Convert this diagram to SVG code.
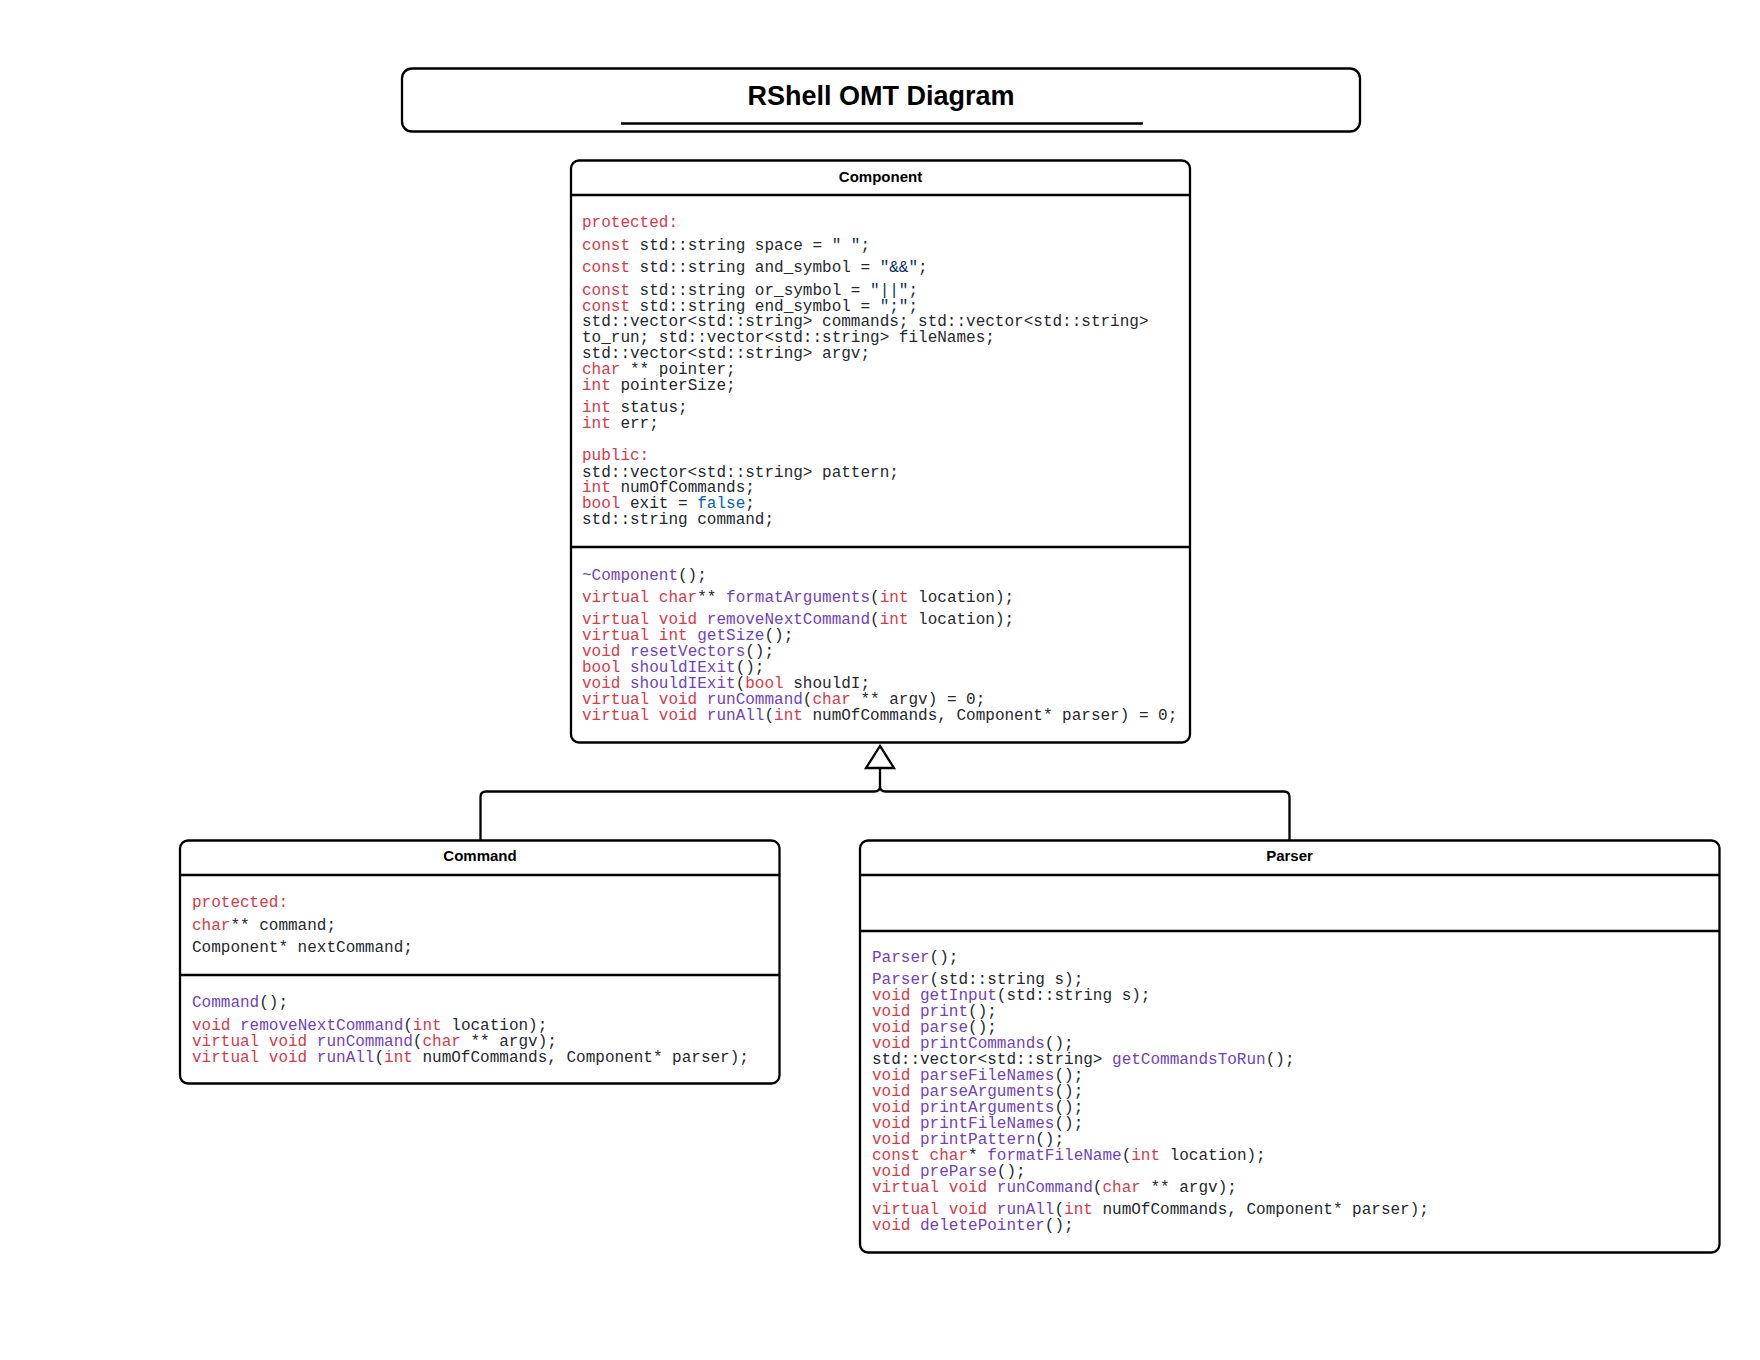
<svg xmlns="http://www.w3.org/2000/svg" width="1760" height="1360" viewBox="0 0 1760 1360">
<style>
.bg{fill:#ffffff}
.box{fill:#ffffff;stroke:#000000;stroke-width:2.3}
.sep{stroke:#000000;stroke-width:2.3;fill:none}
.conn{stroke:#000000;stroke-width:2.3;fill:none}
.tri{fill:#ffffff;stroke:#000000;stroke-width:2.3;stroke-linejoin:miter}
.ttl{font-family:"Liberation Sans",Arial,sans-serif;font-weight:bold;font-size:27px;text-anchor:middle;fill:#000000}
.hd{font-family:"Liberation Sans",Arial,sans-serif;font-weight:bold;font-size:15px;text-anchor:middle;fill:#000000}
.m{font-family:"Liberation Mono","DejaVu Sans Mono",monospace;font-size:16px;fill:#24292e}
.k{fill:#d73a49}
.f{fill:#6f42c1}
.s{fill:#032f62}
.c{fill:#005cc5}
</style>
<rect class="bg" x="0" y="0" width="1760" height="1360"/>

<g id="connectors">
<path class="conn" d="M880,768 V786 Q880,791.5 874.5,791.5 H486 Q480.5,791.5 480.5,797 V840"/>
<path class="conn" d="M880,786 Q880,791.5 885.5,791.5 H1284 Q1289.5,791.5 1289.5,797 V840"/>
<polygon class="tri" points="880,746 866,768 894,768"/>
</g>

<g id="title">
<rect class="box" x="402" y="68.5" width="958" height="63" rx="10"/>
<text class="ttl" x="881" y="105">RShell OMT Diagram</text>
<line class="sep" x1="621" y1="123.5" x2="1143" y2="123.5"/>
</g>

<g id="component">
<rect class="box" x="571" y="160.5" width="619" height="582" rx="8"/>
<line class="sep" x1="571" y1="195" x2="1190" y2="195"/>
<line class="sep" x1="571" y1="547" x2="1190" y2="547"/>
<text class="hd" x="880.5" y="181.5">Component</text>
<text class="m" x="582" y="227"><tspan class="k">protected:</tspan></text>
<text class="m" x="582" y="249.5"><tspan class="k">const</tspan> std::string space = <tspan class="s">" "</tspan>;</text>
<text class="m" x="582" y="272"><tspan class="k">const</tspan> std::string and_symbol = <tspan class="s">"&amp;&amp;"</tspan>;</text>
<text class="m" x="582" y="294.5"><tspan class="k">const</tspan> std::string or_symbol = <tspan class="s">"||"</tspan>;</text>
<text class="m" x="582" y="310.5"><tspan class="k">const</tspan> std::string end_symbol = <tspan class="s">";"</tspan>;</text>
<text class="m" x="582" y="326">std::vector&lt;std::string&gt; commands; std::vector&lt;std::string&gt;</text>
<text class="m" x="582" y="342">to_run; std::vector&lt;std::string&gt; fileNames;</text>
<text class="m" x="582" y="358">std::vector&lt;std::string&gt; argv;</text>
<text class="m" x="582" y="374"><tspan class="k">char</tspan> ** pointer;</text>
<text class="m" x="582" y="390"><tspan class="k">int</tspan> pointerSize;</text>
<text class="m" x="582" y="412"><tspan class="k">int</tspan> status;</text>
<text class="m" x="582" y="428"><tspan class="k">int</tspan> err;</text>
<text class="m" x="582" y="460"><tspan class="k">public:</tspan></text>
<text class="m" x="582" y="476.5">std::vector&lt;std::string&gt; pattern;</text>
<text class="m" x="582" y="492"><tspan class="k">int</tspan> numOfCommands;</text>
<text class="m" x="582" y="508"><tspan class="k">bool</tspan> exit = <tspan class="c">false</tspan>;</text>
<text class="m" x="582" y="524">std::string command;</text>
<text class="m" x="582" y="580"><tspan class="f">~Component</tspan>();</text>
<text class="m" x="582" y="602"><tspan class="k">virtual char</tspan>** <tspan class="f">formatArguments</tspan>(<tspan class="k">int</tspan> location);</text>
<text class="m" x="582" y="624"><tspan class="k">virtual void</tspan> <tspan class="f">removeNextCommand</tspan>(<tspan class="k">int</tspan> location);</text>
<text class="m" x="582" y="640"><tspan class="k">virtual int</tspan> <tspan class="f">getSize</tspan>();</text>
<text class="m" x="582" y="656"><tspan class="k">void</tspan> <tspan class="f">resetVectors</tspan>();</text>
<text class="m" x="582" y="672"><tspan class="k">bool</tspan> <tspan class="f">shouldIExit</tspan>();</text>
<text class="m" x="582" y="688"><tspan class="k">void</tspan> <tspan class="f">shouldIExit</tspan>(<tspan class="k">bool</tspan> shouldI;</text>
<text class="m" x="582" y="704"><tspan class="k">virtual void</tspan> <tspan class="f">runCommand</tspan>(<tspan class="k">char</tspan> ** argv) = 0;</text>
<text class="m" x="582" y="720"><tspan class="k">virtual void</tspan> <tspan class="f">runAll</tspan>(<tspan class="k">int</tspan> numOfCommands, Component* parser) = 0;</text>
</g>

<g id="command">
<rect class="box" x="180" y="840.5" width="599.5" height="243" rx="8"/>
<line class="sep" x1="180" y1="875" x2="779.5" y2="875"/>
<line class="sep" x1="180" y1="975" x2="779.5" y2="975"/>
<text class="hd" x="480" y="861">Command</text>
<text class="m" x="192" y="907"><tspan class="k">protected:</tspan></text>
<text class="m" x="192" y="929.5"><tspan class="k">char</tspan>** command;</text>
<text class="m" x="192" y="952">Component* nextCommand;</text>
<text class="m" x="192" y="1007"><tspan class="f">Command</tspan>();</text>
<text class="m" x="192" y="1029.5"><tspan class="k">void</tspan> <tspan class="f">removeNextCommand</tspan>(<tspan class="k">int</tspan> location);</text>
<text class="m" x="192" y="1045.5"><tspan class="k">virtual void</tspan> <tspan class="f">runCommand</tspan>(<tspan class="k">char</tspan> ** argv);</text>
<text class="m" x="192" y="1061.5"><tspan class="k">virtual void</tspan> <tspan class="f">runAll</tspan>(<tspan class="k">int</tspan> numOfCommands, Component* parser);</text>
</g>

<g id="parser">
<rect class="box" x="860" y="840.5" width="859.5" height="412" rx="8"/>
<line class="sep" x1="860" y1="875" x2="1719.5" y2="875"/>
<line class="sep" x1="860" y1="931" x2="1719.5" y2="931"/>
<text class="hd" x="1289.5" y="861">Parser</text>
<text class="m" x="872" y="962"><tspan class="f">Parser</tspan>();</text>
<text class="m" x="872" y="984"><tspan class="f">Parser</tspan>(std::string s);</text>
<text class="m" x="872" y="1000"><tspan class="k">void</tspan> <tspan class="f">getInput</tspan>(std::string s);</text>
<text class="m" x="872" y="1016"><tspan class="k">void</tspan> <tspan class="f">print</tspan>();</text>
<text class="m" x="872" y="1032"><tspan class="k">void</tspan> <tspan class="f">parse</tspan>();</text>
<text class="m" x="872" y="1048"><tspan class="k">void</tspan> <tspan class="f">printCommands</tspan>();</text>
<text class="m" x="872" y="1064">std::vector&lt;std::string&gt; <tspan class="f">getCommandsToRun</tspan>();</text>
<text class="m" x="872" y="1080"><tspan class="k">void</tspan> <tspan class="f">parseFileNames</tspan>();</text>
<text class="m" x="872" y="1096"><tspan class="k">void</tspan> <tspan class="f">parseArguments</tspan>();</text>
<text class="m" x="872" y="1112"><tspan class="k">void</tspan> <tspan class="f">printArguments</tspan>();</text>
<text class="m" x="872" y="1128"><tspan class="k">void</tspan> <tspan class="f">printFileNames</tspan>();</text>
<text class="m" x="872" y="1144"><tspan class="k">void</tspan> <tspan class="f">printPattern</tspan>();</text>
<text class="m" x="872" y="1160"><tspan class="k">const char</tspan>* <tspan class="f">formatFileName</tspan>(<tspan class="k">int</tspan> location);</text>
<text class="m" x="872" y="1176"><tspan class="k">void</tspan> <tspan class="f">preParse</tspan>();</text>
<text class="m" x="872" y="1192"><tspan class="k">virtual void</tspan> <tspan class="f">runCommand</tspan>(<tspan class="k">char</tspan> ** argv);</text>
<text class="m" x="872" y="1214"><tspan class="k">virtual void</tspan> <tspan class="f">runAll</tspan>(<tspan class="k">int</tspan> numOfCommands, Component* parser);</text>
<text class="m" x="872" y="1230"><tspan class="k">void</tspan> <tspan class="f">deletePointer</tspan>();</text>
</g>
</svg>
